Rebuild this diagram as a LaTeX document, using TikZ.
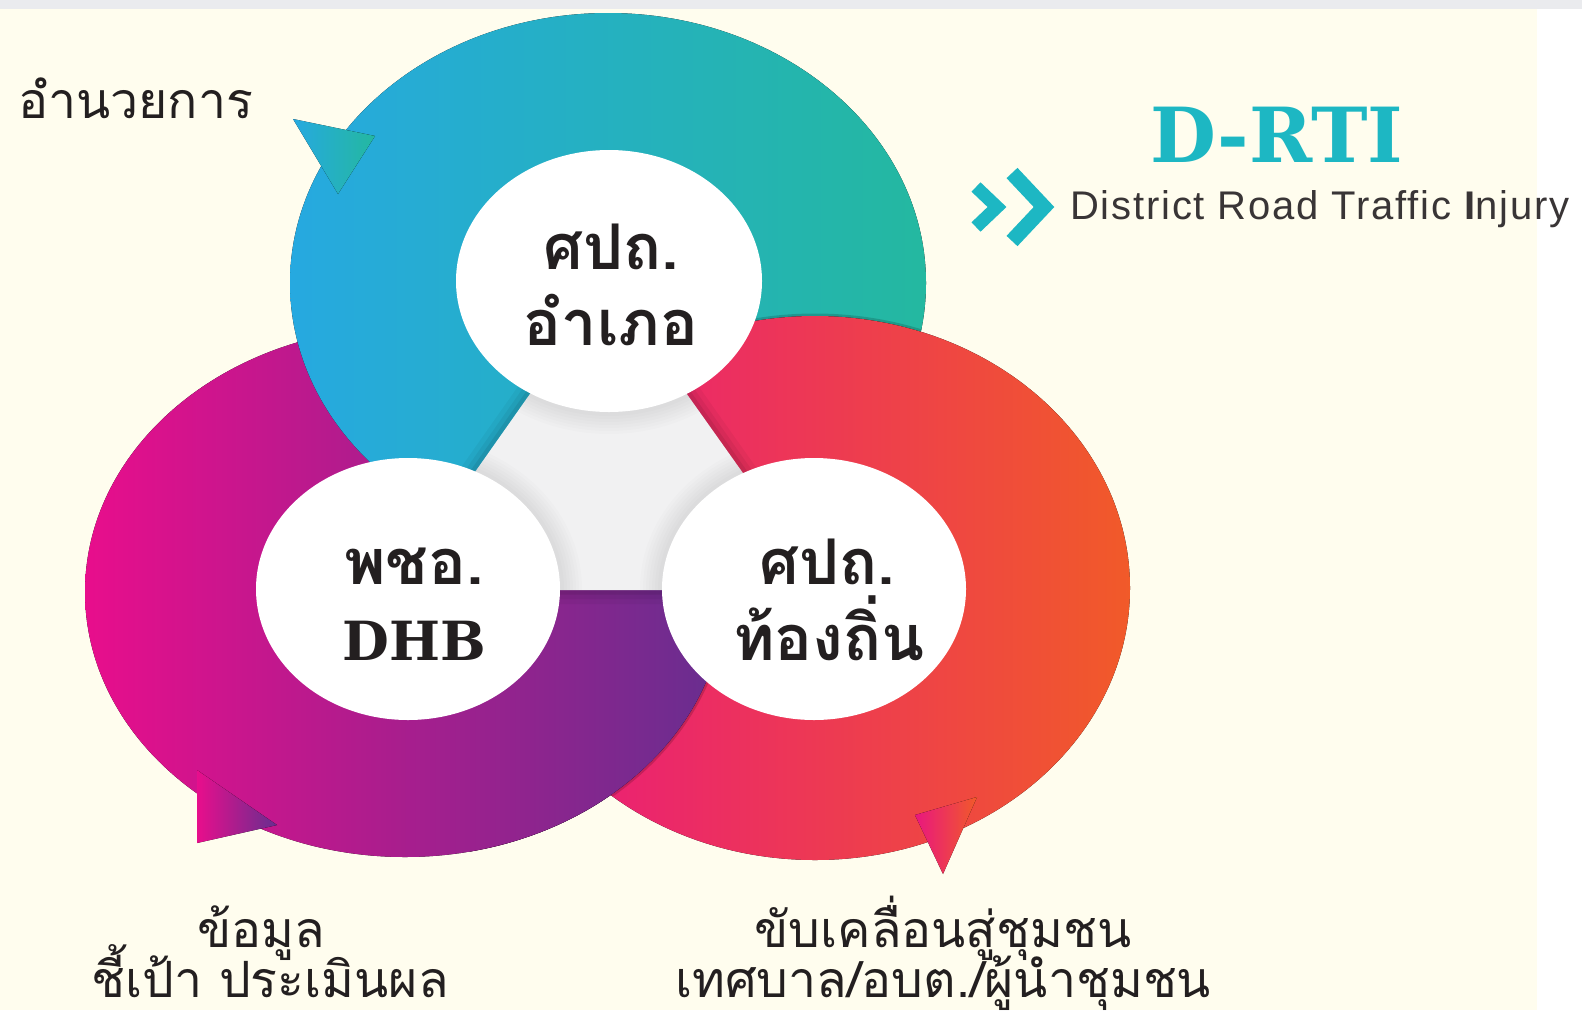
\documentclass[tikz,border=0pt]{standalone}
\usepackage{fontspec}
\setmainfont{Liberation Sans}
\newfontfamily\thaifont[Script=Thai]{Loma}
\newfontfamily\slabfont{DejaVu Serif}
\usetikzlibrary{positioning}
\definecolor{ink}{HTML}{231F20}
\definecolor{cream}{HTML}{FFFDEE}
\definecolor{stripgray}{HTML}{EAEBEE}
\definecolor{hubgray}{HTML}{F1F1F2}
\definecolor{skyblue}{HTML}{26A9E0}
\definecolor{seateal}{HTML}{24B8A0}
\definecolor{hotpink}{HTML}{E80E8C}
\definecolor{grape}{HTML}{672E8F}
\definecolor{rosered}{HTML}{E9177F}
\definecolor{flame}{HTML}{F15A29}
\definecolor{logoteal}{HTML}{1DB7C3}

\begin{document}
\begin{tikzpicture}[x=1pt,y=-1pt,
 thai/.style={font=\thaifont\fontsize{50}{55}\selectfont,text=ink,inner sep=0pt,anchor=base},
 hub/.style={font=\thaifont\bfseries\fontsize{63}{70}\selectfont,text=ink,inner sep=0pt,anchor=base},
 topring/.style={left color=skyblue,right color=seateal},
 leftring/.style={left color=hotpink,right color=grape},
 rightring/.style={left color=rosered,right color=flame},
 rimshade/.style={draw=black,opacity=.16,line width=5pt},
 chev/.style={draw=logoteal,line width=13pt,line join=miter,line cap=butt}]
% page: cream sheet, grey strip on top, white margin right
\useasboundingbox (0,0) rectangle (1582,1010);
\fill[white] (0,0) rectangle (1582,1010);
\fill[cream] (0,9) rectangle (1537,1010);
\fill[stripgray] (0,0) rectangle (1582,9);

% the three rings, each one over the next
\fill[leftring] (405,592) ellipse [x radius=320, y radius=265];
\fill[topring] (608,283) ellipse [x radius=318, y radius=270];
\begin{scope}
 \clip (608,283) ellipse [x radius=318, y radius=270];
 \draw[rimshade] (815,588) ellipse [x radius=315, y radius=272];
\end{scope}
\fill[rightring] (815,588) ellipse [x radius=315, y radius=272];
\begin{scope}
 \clip (470,590) rectangle (790,890);
 \begin{scope}
  \clip (815,588) ellipse [x radius=315, y radius=272];
  \draw[rimshade] (405,592) ellipse [x radius=320, y radius=265];
 \end{scope}
 \fill[leftring] (405,592) ellipse [x radius=320, y radius=265];
\end{scope}

% grey hub between the centres
\foreach \w/\o in {28/.04,18/.05,9/.07}
 \draw[line width=\w pt,opacity=\o,line join=round] (608,283) -- (392,590) -- (826,590) -- cycle;
\fill[hubgray] (608,283) -- (392,590) -- (826,590) -- cycle;
\begin{scope}
 \clip (608,283) -- (392,590) -- (826,590) -- cycle;
 \foreach \w in {44,38,32,26,20,14,8} {
  \draw[line width=\w pt,opacity=.012] (609,281) ellipse [x radius=153, y radius=131];
  \draw[line width=\w pt,opacity=.012] (408,589) ellipse [x radius=152, y radius=131];
  \draw[line width=\w pt,opacity=.012] (814,589) ellipse [x radius=152, y radius=131];
 }
\end{scope}
\fill[white] (609,281) ellipse [x radius=153, y radius=131];
\fill[white] (408,589) ellipse [x radius=152, y radius=131];
\fill[white] (814,589) ellipse [x radius=152, y radius=131];

% arrow heads on the rims
\fill[topring] (293,119) -- (375,136) -- (338,194) -- cycle;
\fill[leftring] (197,770) -- (197,843) -- (277,825) -- cycle;
\fill[rightring] (915,815) -- (977,797) -- (943,874) -- cycle;

% labels in the rings
\node[hub] (amphoe-a) at (611,269) {ศปถ.};
\node[hub] (amphoe-b) at (611,345) {อำเภอ};
\node[hub] (dhb-a) at (414,584) {พชอ.};
\node[hub,font=\slabfont\bfseries\fontsize{54}{60}\selectfont] (dhb-b) at (414,660) {DHB};
\node[hub] (local-a) at (827,584) {ศปถ.};
\node[hub] (local-b) at (829,660) {ท้องถิ่น};

% texts round the rings
\node[thai,anchor=base west] (direct) at (18,118) {อำนวยการ};
\node[thai] (data-a) at (261,947) {ข้อมูล};
\node[thai] (data-b) at (270,997) {ชี้เป้า ประเมินผล};
\node[thai] (drive-a) at (943,947) {ขับเคลื่อนสู่ชุมชน};
\node[thai] (drive-b) at (943,997) {เทศบาล/อบต./ผู้นำชุมชน};

% logo
\node[anchor=base,inner sep=0pt,text=logoteal,font=\slabfont\bfseries\fontsize{76}{86}\selectfont] (logo) at (1277,162) {D-RTI};
\node[anchor=base west,inner sep=0pt,text=ink!90,font=\fontsize{40}{48}\selectfont\addfontfeatures{LetterSpace=4.5}] (logo-sub) at (1070,219) {District Road Traffic {\bfseries I}njury};
\draw[chev] (976,187) -- (997,207) -- (976,227);
\draw[chev,line width=15pt] (1012,173) -- (1044,207) -- (1012,241);
\end{tikzpicture}
\end{document}
